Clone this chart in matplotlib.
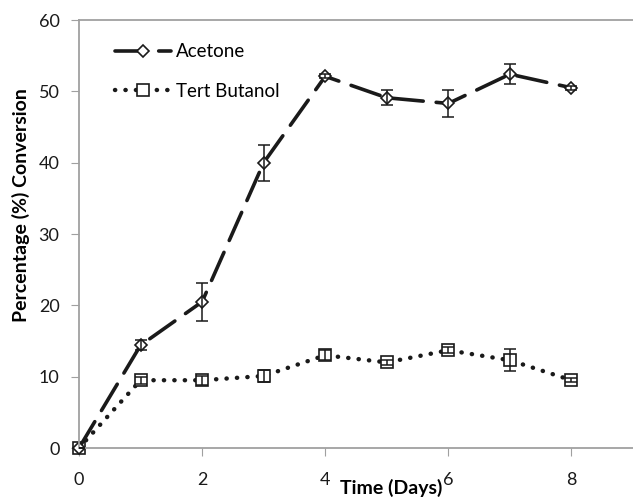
import matplotlib
matplotlib.use("Agg")
import matplotlib.pyplot as plt

days = [0, 1, 2, 3, 4, 5, 6, 7, 8]
acetone = [0, 14.4, 20.5, 40.0, 52.1, 49.1, 48.3, 52.4, 50.5]
acetone_err = [0, 0.7, 2.7, 2.5, 0.3, 1.05, 1.9, 1.4, 0.3]
butanol = [0, 9.5, 9.5, 10.1, 13.0, 12.0, 13.7, 12.3, 9.5]
butanol_err = [0, 0.5, 0.6, 0.9, 0.7, 0.4, 0.4, 1.55, 0.3]

plt.rcParams['font.family'] = ['Lato', 'DejaVu Sans']
ink = '#1a1a1a'

fig = plt.figure(figsize=(6.33, 4.98), dpi=100)
ax = fig.add_axes([79 / 633, 50 / 498, 554 / 633, 428 / 498])

ax.errorbar(days, acetone, yerr=acetone_err, fmt='none', ecolor=ink,
            elinewidth=1.1, capsize=4, capthick=1.1, zorder=3)
ax.errorbar(days, butanol, yerr=butanol_err, fmt='none', ecolor=ink,
            elinewidth=1.1, capsize=4, capthick=1.1, zorder=3)

ax.plot(days, butanol, color=ink, lw=3.2, linestyle=(0, (0.05, 2.3)),
        dash_capstyle='round', marker='s', markersize=8.2,
        markerfacecolor='white', markeredgecolor=ink, markeredgewidth=1.2,
        label='Tert Butanol', zorder=2, clip_on=False)
ax.plot(days, acetone, color=ink, lw=2.6, linestyle=(0, (8.5, 3.6)),
        dash_capstyle='round', marker='D', markersize=5.8,
        markerfacecolor='white', markeredgecolor=ink, markeredgewidth=1.2,
        label='Acetone', zorder=2, clip_on=False)

ax.set_xlim(0, 9)
ax.set_ylim(0, 60)
ax.set_xticks([0, 2, 4, 6, 8])
ax.set_yticks(range(0, 61, 10))
ax.tick_params(direction='out', length=6, color='#a0a0a0', labelsize=13,
               labelcolor=ink)
ax.tick_params(axis='x', pad=11)
ax.tick_params(axis='y', pad=8)

for side in ['left', 'bottom', 'top']:
    ax.spines[side].set_color('#a0a0a0')
    ax.spines[side].set_linewidth(1.3)
ax.spines['right'].set_visible(False)

ax.set_xlabel('Time (Days)', fontsize=14, fontweight='bold')
ax.xaxis.set_label_coords(0.563, -0.093)
ax.xaxis.label.set_va('center')
ax.set_ylabel('Percentage (%) Conversion', fontsize=14, fontweight='bold')
ax.yaxis.set_label_coords(-0.105, 0.568)
ax.yaxis.label.set_va('center')

handles, labels = ax.get_legend_handles_labels()
ax.legend(handles[::-1], labels[::-1], loc='upper left',
          bbox_to_anchor=(0.035, 0.985), frameon=False,
          fontsize=13.5, handlelength=2.95, labelspacing=1.2, handletextpad=0.3)

fig.savefig('out.png', dpi=100)
